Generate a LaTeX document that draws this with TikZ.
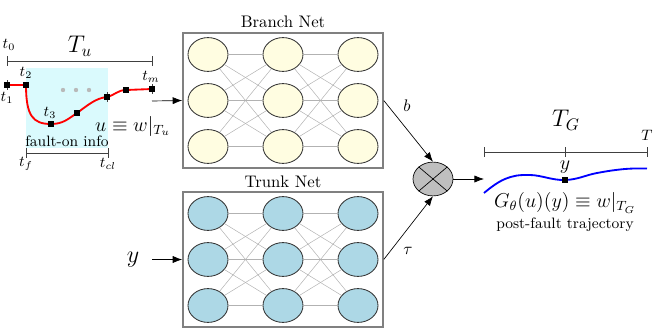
\documentclass[tikz,border=0pt]{standalone}
\usepackage{amsmath}
\usetikzlibrary{calc}
\usetikzlibrary{arrows.meta}
\usetikzlibrary{shapes.geometric}

\definecolor{lightblue}{RGB}{173,216,230}
\definecolor{paleyellow}{RGB}{255,253,225}
\definecolor{palecyan}{RGB}{218,250,253}

\tikzset{
    neuron/.style={ellipse, draw=black!80, line width=0.5pt, inner sep=0pt, minimum width=0.84cm, minimum height=0.71cm},
    netbox/.style={draw=gray, line width=0.9pt, minimum width=4.2cm, minimum height=2.84cm},
    link/.style={gray!60, line width=0.3pt},
    sq/.style={rectangle, fill=black, inner sep=0pt, minimum size=3.2pt},
    tickline/.style={line width=0.4pt, black!75},
    arr/.style={-{Latex[length=2mm,width=1.5mm]}, line width=0.4pt},
}

\begin{document}
\begin{tikzpicture}[x=0.021cm, y=-0.021cm]

    \useasboundingbox (0,0) rectangle (654,328);

    % the two nets
    \node[netbox] (branch) at (283,100.5) {};
    \node[netbox] (trunk) at (283,259.5) {};
    \node at (283,22) {Branch Net};
    \node at (283,182) {Trunk Net};

    \foreach \i/\x in {1/208,2/283,3/358}
        \foreach \j/\y in {1/54.5,2/100.5,3/146.5}
            \node[neuron, fill=paleyellow] (B\i\j) at (\x,\y) {};
    \foreach \i/\x in {1/208,2/283,3/358}
        \foreach \j/\y in {1/213.5,2/259.5,3/305.5}
            \node[neuron, fill=lightblue] (T\i\j) at (\x,\y) {};

    \foreach \i/\n in {1/2,2/3}
        \foreach \j in {1,2,3}
            \foreach \k in {1,2,3}
            {
                \draw[link] (B\i\j) -- (B\n\k);
                \draw[link] (T\i\j) -- (T\n\k);
            }

    % product
    \node[ellipse, draw, fill=black!25, minimum width=0.84cm, minimum height=0.71cm] (mul) at (433,179) {};
    \draw[] (mul.north west) -- (mul.south east);
    \draw[] (mul.north east) -- (mul.south west);

    \draw[arr] (branch.east) -- (mul.north) node[pos=0.28, above right] {$b$};
    \draw[arr] (trunk.east) -- (mul.south) node[pos=0.28, below right] {$\tau$};

    % input u
    \fill[palecyan] (26,68) rectangle (108,148);
    \node at (67,141) {\small fault-on info};

    \coordinate (t1) at (7,85);
    \coordinate (t2) at (26,85);
    \coordinate (t3) at (51,124);
    \coordinate (q1) at (77,113);
    \coordinate (tcl) at (107,97);
    \coordinate (q2) at (126,90);
    \coordinate (tm) at (152,89);

    \draw[red, line width=1.1pt] (t1) -- (t2) .. controls (26,116) and (33,124) .. (t3)
        .. controls (63,124) and (68,119) .. (q1) .. controls (88,105) and (96,98) .. (tcl)
        .. controls (115,95) and (118,90) .. (q2) -- (tm);

    \foreach \p in {t1,tcl,tm}
        \draw[tickline] ($(\p) + (0,-5)$) -- ($(\p) + (0,5)$);
    \foreach \p/\n in {t1/1,t2/2,t3/3,q1/4,tcl/5,q2/6,tm/7}
        \node[sq] (s\n) at (\p) {};

    \node at (7,98) {\small $t_1$};
    \node at (26,73) {\small $t_2$};
    \node at (50,113) {\small $t_3$};
    \node at (151,77) {\small $t_m$};
    \foreach \x in {63,76,89}
        \fill[gray!55] (\x,90) circle (1.3pt);
    \node at (133,126) {\large $u \equiv w|_{T_u}$};

    \draw[tickline] (7,61) -- (152,61);
    \draw[tickline] (7,56) -- (7,66);
    \draw[tickline] (152,56) -- (152,66);
    \node at (9,45) {\small $t_0$};
    \node at (80,46) {\Large $T_u$};

    \draw[tickline] (26,153) -- (108,153);
    \draw[tickline] (26,148) -- (26,158);
    \draw[tickline] (108,148) -- (108,158);
    \node at (26,164) {\small $t_f$};
    \node at (108,164) {\small $t_{cl}$};

    \coordinate (uin) at (152,101);
    \draw[arr] (uin) -- (branch.west);

    % input y
    \node (ylab) at (133,260) {\Large $y$};
    \coordinate (yin) at (152,259.5);
    \draw[arr] (yin) -- (trunk.west);

    % output
    \coordinate (gout) at (484,179);
    \draw[arr] (mul.east) -- (gout);

    \node at (566,120) {\Large $T_G$};
    \node at (647,135) {\small $T$};
    \draw[tickline] (484,152) -- (647,152);
    \foreach \x in {484,565,647}
        \draw[tickline] (\x,147) -- (\x,157);

    \draw[blue, line width=1.1pt] plot[smooth, tension=0.7] coordinates
        {(484,193) (505,179) (530,175) (565,180) (597,173) (625,169) (647,168.5)};
    \node[sq] (ymk) at (565,180) {};
    \node at (565,167) {\large $y$};

    \node at (565,203) {\large $G_\theta(u)(y) \equiv w|_{T_G}$};
    \node at (565,225) {\small post-fault trajectory};

\end{tikzpicture}
\end{document}
